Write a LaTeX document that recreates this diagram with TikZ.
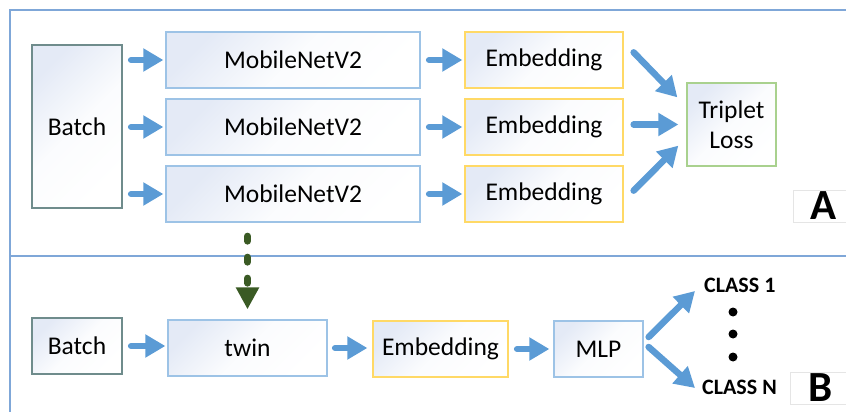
\documentclass[tikz,border=0pt]{standalone}
\usepackage{fontspec}
\setmainfont{Carlito}
\usepackage{tikz}
\usetikzlibrary{arrows.meta,calc,positioning}
\definecolor{arrowblue}{HTML}{5B9BD5}
\definecolor{edgeblue}{HTML}{9DC3E6}
\definecolor{edgeyellow}{HTML}{FFD966}
\definecolor{edgegreen}{HTML}{A9D18E}
\definecolor{edgegray}{HTML}{6F8C8C}
\definecolor{frameblue}{HTML}{7FA7D8}
\definecolor{shadeblue}{HTML}{E4EAF6}
\definecolor{darkgreen}{HTML}{3A5A24}
\tikzset{
    box/.style={draw, line width=1.3pt, top color=shadeblue, bottom color=white, middle color=white!85!shadeblue,
        shading angle=45, font=\fontsize{25.5}{30}\selectfont, align=center, inner sep=0pt},
    netbox/.style={box, draw=edgeblue},
    embbox/.style={box, draw=edgeyellow},
    lossbox/.style={box, draw=edgegreen},
    batchbox/.style={box, draw=edgegray},
    tagbox/.style={draw=gray!20, fill=white, line width=0.8pt, font=\fontsize{43}{43}\bfseries\selectfont,
        minimum width=60pt, minimum height=32pt, inner sep=0pt, anchor=west},
    classlabel/.style={font=\fontsize{22}{22}\bfseries\selectfont, inner sep=0pt, anchor=west},
    barrow/.style={draw=arrowblue, line width=6.5pt, line cap=round, -{Triangle[width=22pt,length=20pt]},
        shorten <=8.5pt, shorten >=2pt},
    dasharrow/.style={draw=darkgreen, line width=7pt, line cap=round, dash pattern=on 5pt off 16pt,
        -{Triangle[width=22pt,length=22pt]}}
}
\begin{document}
\begin{tikzpicture}[x=1pt, y=-1pt]
            \useasboundingbox (0,0) rectangle (846,412);
            \draw[frameblue, line width=1.5pt] (10,420) -- (10,10) -- (860,10);
            \draw[frameblue, line width=1.5pt] (10,256) -- (860,256);

            \node[batchbox, minimum width=90pt, minimum height=163pt] (batchA) at (77,126.5) {Batch};
            \foreach \i/\y in {1/60,2/127,3/194}
            {
            \node[netbox, minimum width=254pt, minimum height=56pt] (mnet\i) at (293,\y) {MobileNetV2};
            \node[embbox, minimum width=158pt, minimum height=56pt] (emb\i) at (544,\y) {Embedding};
            \draw[barrow] (batchA.east |- mnet\i) -- (mnet\i.west);
            \draw[barrow] (mnet\i.east) -- (emb\i.west);
            }
            \node[lossbox, minimum width=89pt, minimum height=83pt] (loss) at (731.5,124.5) {Triplet\\Loss};
            \draw[barrow, shorten <=0pt, shorten >=0pt] ([shift={(10,21)}]emb1.north east) -- ([shift={(-9,15)}]loss.north west);
            \draw[barrow, shorten <=10pt, shorten >=8pt] (emb2.east |- loss.west) -- (loss.west);
            \draw[barrow, shorten <=0pt, shorten >=0pt] ([shift={(10,-32)}]emb3.south east) -- ([shift={(-8,-21)}]loss.south west);
            \node[tagbox] (tagA) at (793,206) {A};

            \node[batchbox, minimum width=90pt, minimum height=56pt] (batchB) at (77,346) {Batch};
            \node[netbox, minimum width=159pt, minimum height=56pt] (twin) at (247.5,348) {twin};
            \node[embbox, minimum width=135pt, minimum height=56pt] (embB) at (440.5,349) {Embedding};
            \node[netbox, minimum width=89pt, minimum height=56pt] (mlp) at (598.5,349) {MLP};
            \draw[barrow] (batchB.east) -- (batchB.east -| twin.west);
            \draw[barrow, shorten <=7.5pt, shorten >=5pt] (twin.east) -- (twin.east -| embB.west);
            \draw[barrow, shorten >=4pt] (embB.east) -- (mlp.west);
            \draw[dasharrow, shorten <=13.5pt, shorten >=10pt] (mnet3.south -| twin.north) -- (twin.north);

            \node[classlabel] (class1) at (704,285) {CLASS 1};
            \node[classlabel] (classN) at (702,387) {CLASS N};
            \foreach \y [count=\k] in {312,334,357}
            {
            \fill (733,\y) circle (4.5pt) coordinate (dot\k);
            }
            \draw[barrow, shorten <=0pt, shorten >=0pt] ([shift={(5,-12)}]mlp.east) -- ([shift={(-9,6)}]class1.west);
            \draw[barrow, shorten <=0pt, shorten >=0pt] ([shift={(5,-2)}]mlp.east) -- ([shift={(-7,1)}]classN.west);
            \node[tagbox] (tagB) at (790,388) {B};
\end{tikzpicture}
\end{document}
